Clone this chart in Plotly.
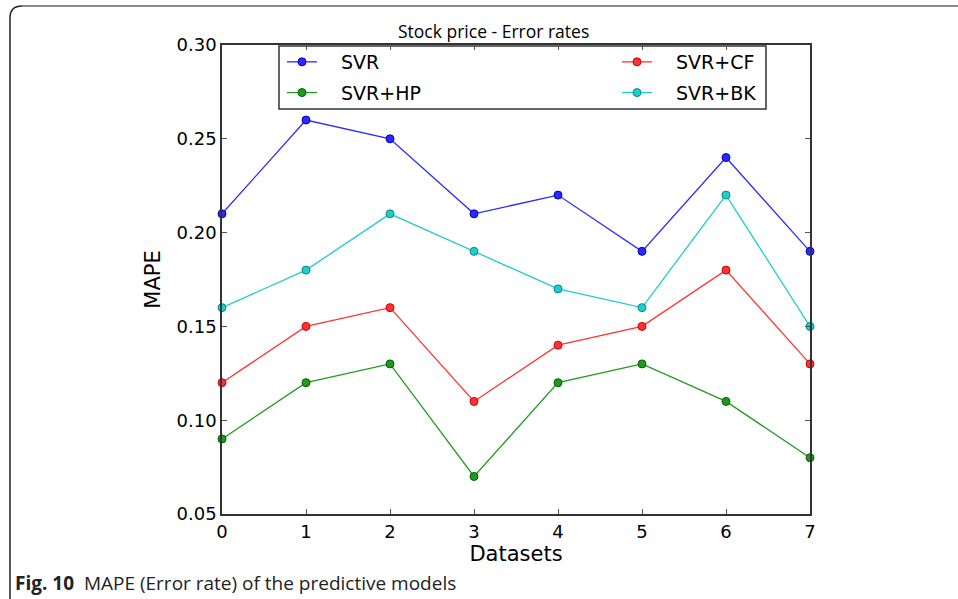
import plotly.graph_objects as go

# MAPE per dataset for each model
datasets = [0, 1, 2, 3, 4, 5, 6, 7]
svr = [0.21, 0.26, 0.25, 0.21, 0.22, 0.19, 0.24, 0.19]
svr_cf = [0.12, 0.15, 0.16, 0.11, 0.14, 0.15, 0.18, 0.13]
svr_hp = [0.09, 0.12, 0.13, 0.07, 0.12, 0.13, 0.11, 0.08]
svr_bk = [0.16, 0.18, 0.21, 0.19, 0.17, 0.16, 0.22, 0.15]
y_ticks = [0.05, 0.10, 0.15, 0.20, 0.25, 0.30]

W, H = 958, 599
L, R, T, B = 222, 810, 45, 514  # plot area in pixels


def px(x):
    return (x - L) / (R - L)


def py(y):
    return (B - y) / (B - T)


# name, values, line colour, marker edge colour, legend column
series = [
    ("SVR", svr, "#2a2aff", "#0000cc", "legend"),
    ("SVR+CF", svr_cf, "#ff3333", "#cc0000", "legend2"),
    ("SVR+HP", svr_hp, "#1f9a1f", "#006000", "legend"),
    ("SVR+BK", svr_bk, "#22cccc", "#008c8c", "legend2"),
]

fig = go.Figure()
for name, vals, col, edge, leg in series:
    fig.add_trace(go.Scatter(
        x=datasets, y=vals, name="\u2002\u2002" + name, mode="lines+markers",
        line=dict(color=col, width=1.3),
        marker=dict(size=8, color=col, line=dict(color=edge, width=1)),
        cliponaxis=False, legend=leg, legendgroup=name,
    ))

tick_font = dict(family="DejaVu Sans", size=18, color="#000")
title_font = dict(family="DejaVu Sans", size=21, color="#000")
axis_common = dict(
    showline=True, linecolor="#333", linewidth=1.5, mirror="ticks",
    ticks="inside", ticklen=5, tickcolor="#555", tickwidth=1,
    showgrid=False, zeroline=False, tickfont=tick_font,
)

fig.update_xaxes(range=[0, 7], tickvals=datasets, ticklabelstandoff=1,
                 title=dict(text="Datasets", font=title_font, standoff=4),
                 **axis_common)
fig.update_yaxes(range=[0.05, 0.30], tickvals=y_ticks, tickformat=".2f",
                 title=dict(text="MAPE", font=title_font, standoff=10),
                 **axis_common)

shapes = [
    # figure frame: left edge with rounded top-left corner
    dict(type="path", xref="paper", yref="paper", layer="above",
         path=f"M {px(10)},{py(599)} L {px(10)},{py(18)} Q {px(10)},{py(6)} {px(22)},{py(6)}",
         line=dict(color="#222", width=1.5)),
    dict(type="line", xref="paper", yref="paper", layer="above",
         x0=px(22), x1=px(958), y0=py(6), y1=py(6),
         line=dict(color="#888", width=2)),
    # legend box
    dict(type="rect", xref="paper", yref="paper", layer="below",
         x0=px(279), x1=px(766), y0=py(109), y1=py(46),
         line=dict(color="#333", width=1.5), fillcolor="white"),
]

annotations = [
    dict(text="Stock price - Error rates", xref="paper", yref="paper",
         x=px(493), y=py(31), xanchor="center", yanchor="middle", showarrow=False,
         font=dict(family="Open Sans", size=17.5, color="#000")),
    dict(text="<b>Fig. 10</b>  MAPE (Error rate) of the predictive models",
         xref="paper", yref="paper", x=px(13), y=py(583), xanchor="left", yanchor="middle",
         showarrow=False, font=dict(family="Open Sans", size=19, color="#222")),
]

legend_common = dict(
    orientation="v", yanchor="top", xanchor="left", itemwidth=30,
    font=dict(family="DejaVu Sans", size=19, color="#000"),
    bgcolor="rgba(0,0,0,0)", borderwidth=0, tracegroupgap=3,
)

fig.update_layout(
    width=W, height=H,
    margin=dict(l=L, r=W - R, t=T, b=H - B),
    paper_bgcolor="white", plot_bgcolor="white",
    showlegend=True,
    legend=dict(x=px(282), y=py(43), **legend_common),
    legend2=dict(x=px(617), y=py(43), **legend_common),
    shapes=shapes, annotations=annotations,
)

fig.write_html("out.html")
